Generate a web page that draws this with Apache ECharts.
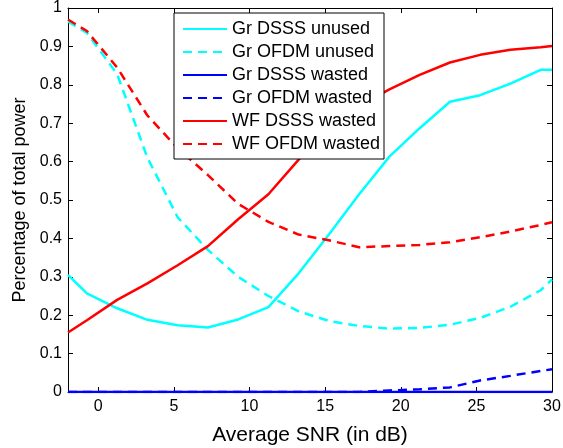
<!DOCTYPE html>
<html>
<head>
<meta charset="utf-8">
<script src="https://cdn.jsdelivr.net/npm/echarts@6/dist/echarts.min.js"></script>
<style>
html,body{margin:0;padding:0;background:#fff;}
#main{width:563px;height:448px;}
</style>
</head>
<body>
<div id="main"></div>
<script>
// SNR points (dB)
var snr=[-2,-0.75,1.25,3.25,5.25,7.25,9.25,11.25,13.25,15.25,17.25,19.25,21.25,23.25,25.25,27.25,29.25,30];
var grDsssUnused=[0.305,0.257,0.218,0.188,0.174,0.168,0.189,0.221,0.309,0.41,0.515,0.613,0.687,0.756,0.773,0.803,0.839,0.839];
var grOfdmUnused=[0.965,0.935,0.828,0.61,0.455,0.37,0.30,0.25,0.21,0.185,0.172,0.165,0.167,0.175,0.193,0.222,0.265,0.293];
var grDsssWasted=[0,0,0,0,0,0,0,0,0,0,0,0,0,0,0,0,0,0];
var grOfdmWasted=[0,0,0,0,0,0,0,0,0,0,0,0.004,0.007,0.012,0.03,0.042,0.055,0.059];
var wfDsssWasted=[0.155,0.187,0.24,0.283,0.33,0.38,0.45,0.515,0.605,0.68,0.745,0.788,0.826,0.858,0.878,0.891,0.898,0.901];
var wfOfdmWasted=[0.97,0.94,0.845,0.72,0.635,0.565,0.49,0.443,0.41,0.395,0.377,0.38,0.383,0.39,0.403,0.418,0.435,0.442];
var xTicks=[0,5,10,15,20,25,30];

var fontName='"Liberation Sans", Arial, sans-serif';

function pairs(ys)
{
	var out=[];
	for(var i=0;i<snr.length;i++)
	{
		out.push([snr[i],ys[i]]);
	}
	return out;
}
function mkSeries(name,ys,color,dashed)
{
	return {
		name:name,
		type:'line',
		data:pairs(ys),
		symbol:'none',
		showSymbol:false,
		lineStyle:{color:color,width:2.5,type:dashed?[9,6]:'solid'},
		itemStyle:{color:color}
	};
}

var myChart=echarts.init(document.getElementById('main'));
var tickStyle={show:true,inside:true,length:5,lineStyle:{color:'#000',width:1}};
var option={
	animation:false,
	backgroundColor:'#fff',
	textStyle:{fontFamily:fontName},
	grid:{left:68,right:11,top:8,bottom:56,show:false,containLabel:false,outerBoundsMode:'none'},
	legend:{
		orient:'vertical',
		left:174,
		top:13,
		backgroundColor:'#fff',
		borderColor:'#000',
		borderWidth:1,
		borderRadius:0,
		padding:[7,4,6,8],
		itemWidth:44,
		itemHeight:14,
		itemGap:5,
		itemStyle:{opacity:0},
		textStyle:{fontSize:18,color:'#000',fontFamily:fontName},
		data:['Gr DSSS unused','Gr OFDM unused','Gr DSSS wasted','Gr OFDM wasted','WF DSSS wasted','WF OFDM wasted']
	},
	xAxis:[{
		type:'value',
		min:-2,
		max:30,
		name:'Average SNR (in dB)',
		nameLocation:'middle',
		nameGap:33,
		nameTextStyle:{fontSize:21,color:'#000',fontFamily:fontName},
		axisLine:{show:true,onZero:false,lineStyle:{color:'#000',width:1}},
		axisTick:Object.assign({customValues:xTicks},tickStyle),
		axisLabel:{customValues:xTicks,fontSize:16,color:'#000',margin:7,fontFamily:fontName},
		splitLine:{show:false}
	},{
		type:'value',
		min:-2,
		max:30,
		position:'top',
		axisLine:{show:true,onZero:false,lineStyle:{color:'#000',width:1}},
		axisTick:Object.assign({customValues:xTicks},tickStyle),
		axisLabel:{show:false},
		splitLine:{show:false}
	}],
	yAxis:[{
		type:'value',
		min:0,
		max:1,
		interval:0.1,
		name:'Percentage of total power',
		nameLocation:'middle',
		nameGap:39,
		nameTextStyle:{fontSize:18,color:'#000',fontFamily:fontName},
		axisLine:{show:true,onZero:false,lineStyle:{color:'#000',width:1}},
		axisTick:tickStyle,
		axisLabel:{fontSize:16,color:'#000',margin:6,fontFamily:fontName},
		splitLine:{show:false}
	},{
		type:'value',
		min:0,
		max:1,
		interval:0.1,
		position:'right',
		axisLine:{show:true,onZero:false,lineStyle:{color:'#000',width:1}},
		axisTick:tickStyle,
		axisLabel:{show:false},
		splitLine:{show:false}
	}],
	series:[
		mkSeries('Gr DSSS unused',grDsssUnused,'#00ffff',false),
		mkSeries('Gr OFDM unused',grOfdmUnused,'#00ffff',true),
		mkSeries('Gr DSSS wasted',grDsssWasted,'#0000ff',false),
		mkSeries('Gr OFDM wasted',grOfdmWasted,'#0000ff',true),
		mkSeries('WF DSSS wasted',wfDsssWasted,'#ff0000',false),
		mkSeries('WF OFDM wasted',wfOfdmWasted,'#ff0000',true)
	]
};
myChart.setOption(option);
</script>
</body>
</html>
